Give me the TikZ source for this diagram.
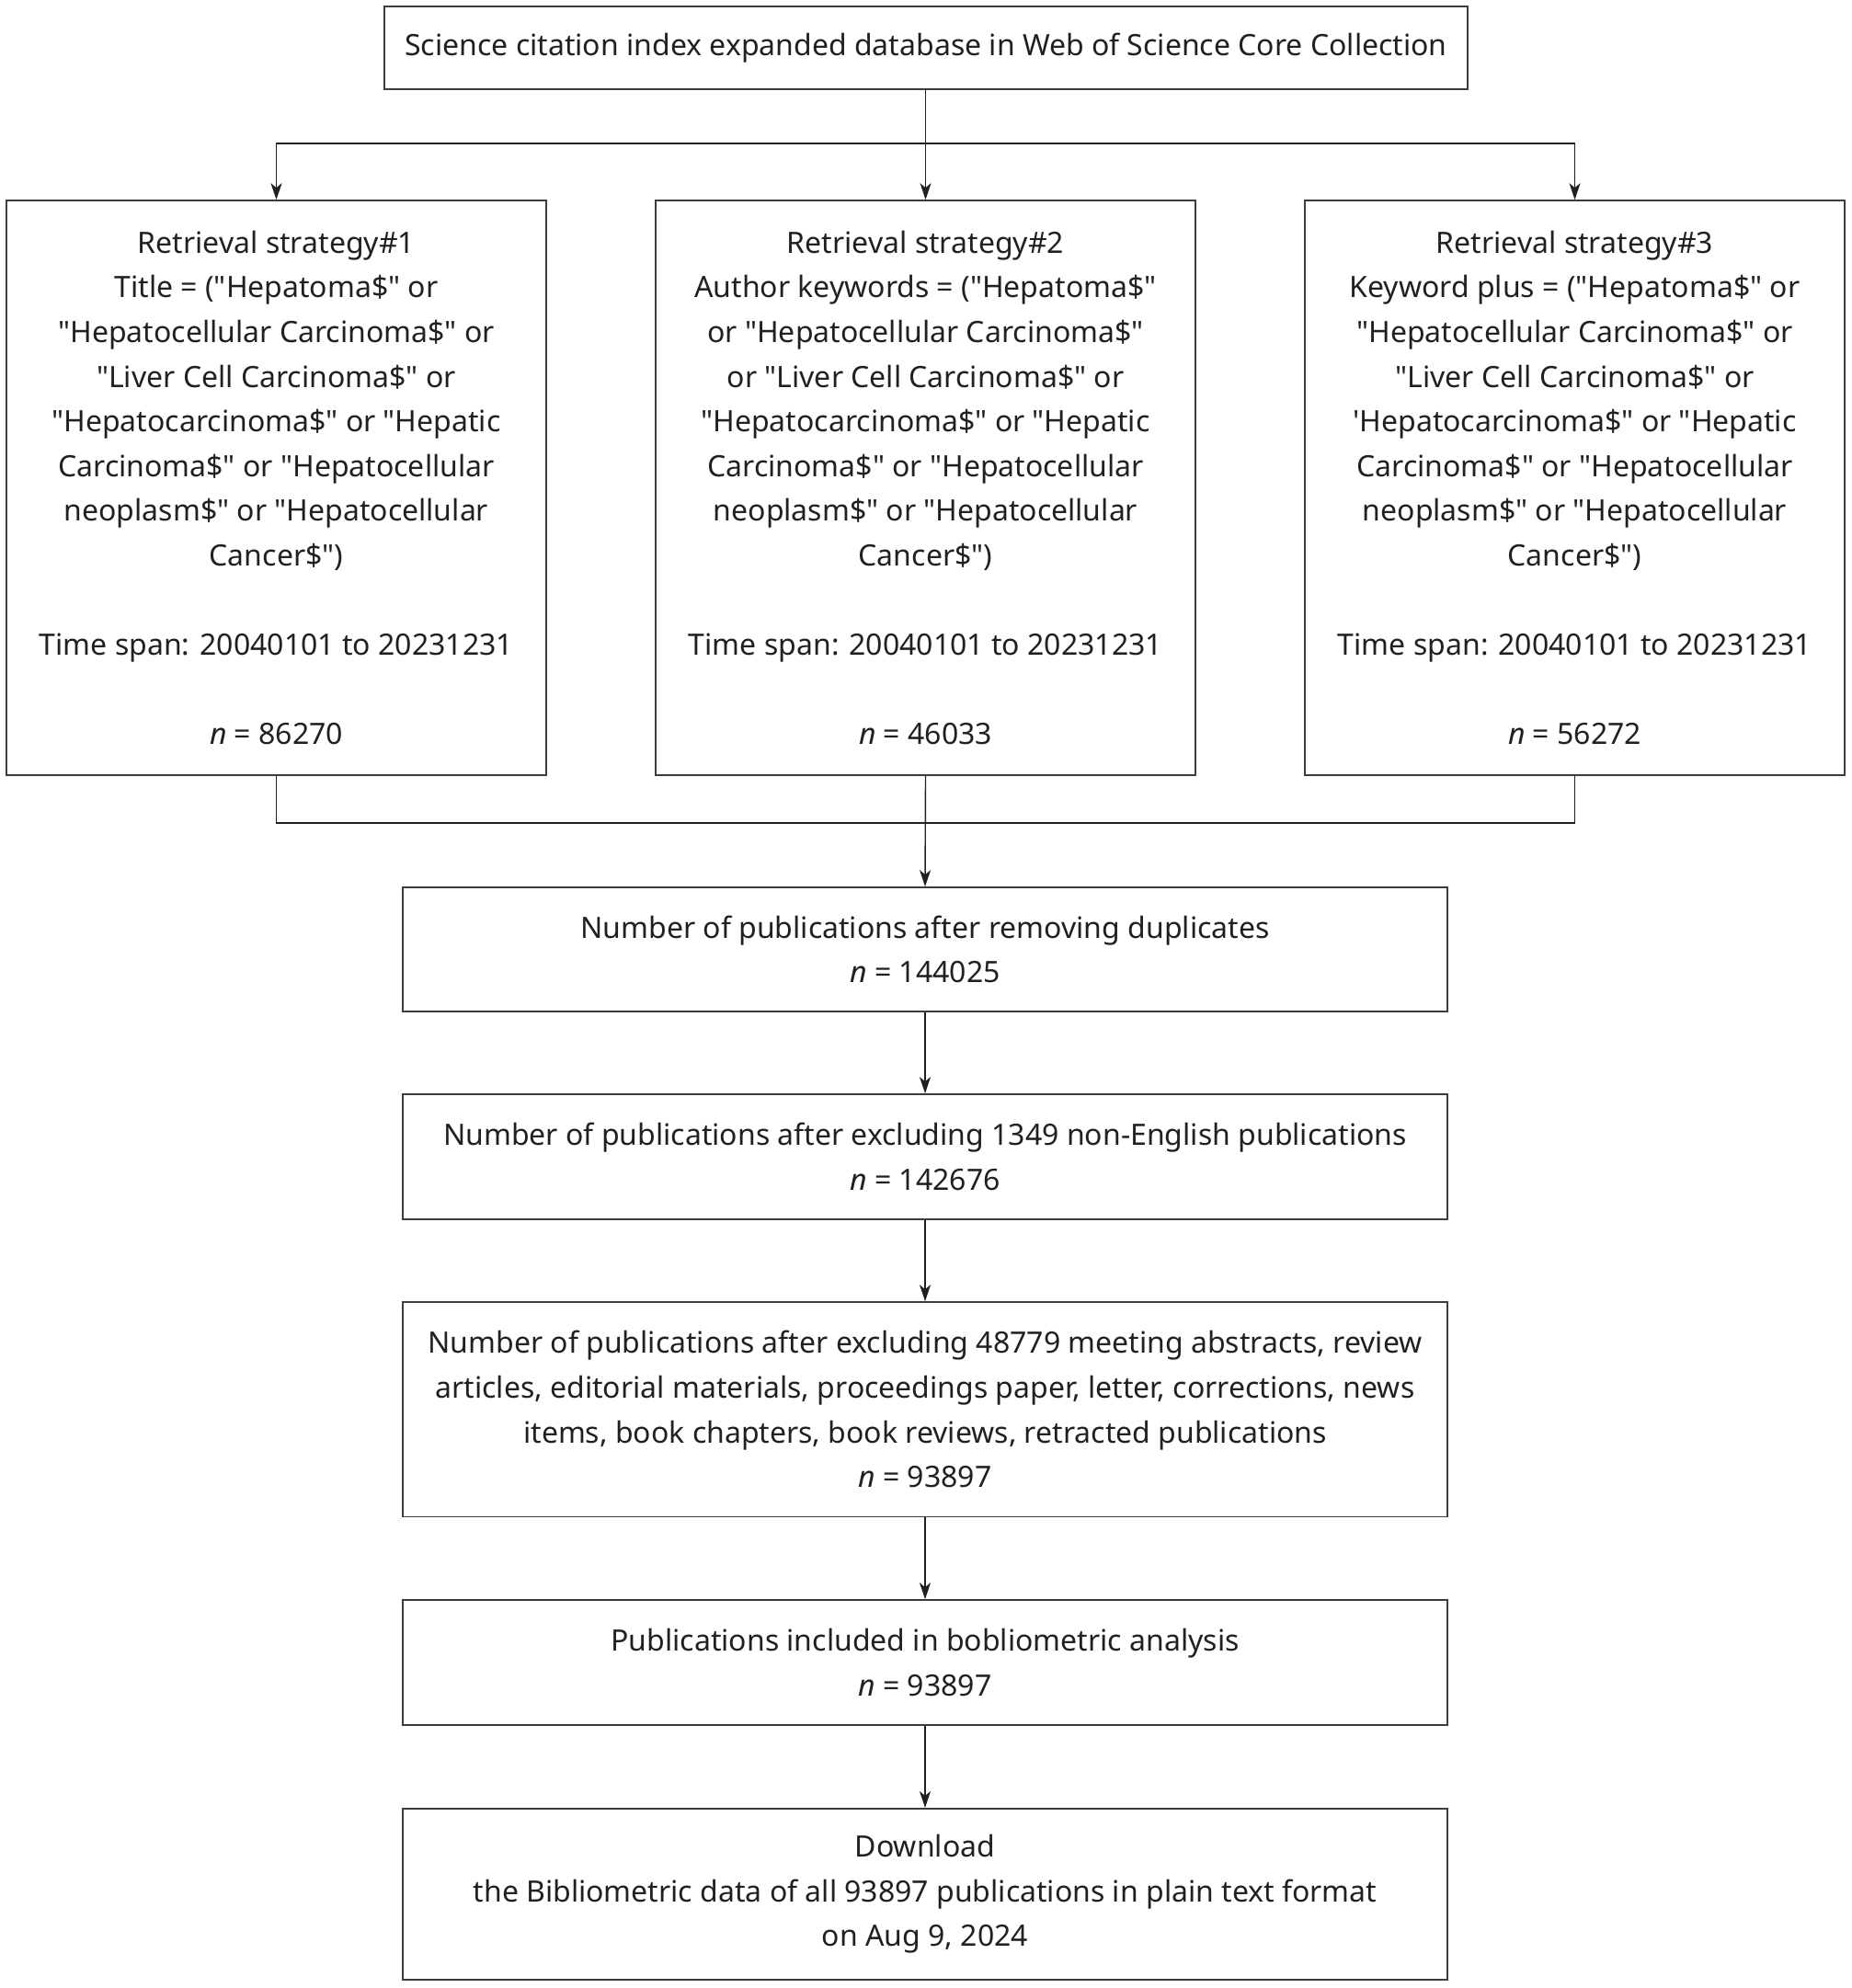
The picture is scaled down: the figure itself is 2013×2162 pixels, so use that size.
\documentclass[tikz,border=0pt]{standalone}
\usepackage{fontspec}
\newfontfamily\nsans{Noto Sans}
\usetikzlibrary{arrows.meta}
\definecolor{ink}{HTML}{231F20}
\definecolor{frame}{HTML}{3C3C3C}
\begin{document}
\begin{tikzpicture}[x=0.5pt,y=-0.5pt,
  box/.style={draw=frame, line width=0.8pt, rectangle, inner sep=0pt, align=center, text=ink,
    font={\nsans\fontsize{16.0}{24.3}\selectfont}},
  sbox/.style={box, minimum width=293.5pt, minimum height=312.5pt},
  wbox/.style={box, minimum width=568pt},
  link/.style={draw=ink, line width=0.7pt},
  arr/.style={link, -{Stealth[length=9pt,width=6pt,inset=2.5pt]}}]
\useasboundingbox (0,0) rectangle (2013,2162);
\node[box, minimum width=589pt, minimum height=45pt] (top) at (1007,52)
  {Science citation index expanded database in Web of Science Core Collection};
\node[sbox] (s1) at (300.5,530.5) {Retrieval strategy\#1\\
Title = ("Hepatoma\$" or\\
"Hepatocellular Carcinoma\$" or\\
"Liver Cell Carcinoma\$" or\\
"Hepatocarcinoma\$" or "Hepatic\\
Carcinoma\$" or "Hepatocellular\\
neoplasm\$" or "Hepatocellular\\
Cancer\$")\\ \mbox{}\\
Time span: 20040101 to 20231231\\ \mbox{}\\
{\itshape n} = 86270};
\node[sbox] (s2) at (1006.5,530.5) {Retrieval strategy\#2\\
Author keywords = ("Hepatoma\$"\\
or "Hepatocellular Carcinoma\$"\\
or "Liver Cell Carcinoma\$" or\\
"Hepatocarcinoma\$" or "Hepatic\\
Carcinoma\$" or "Hepatocellular\\
neoplasm\$" or "Hepatocellular\\
Cancer\$")\\ \mbox{}\\
Time span: 20040101 to 20231231\\ \mbox{}\\
{\itshape n} = 46033};
\node[sbox] (s3) at (1712.5,530.5) {Retrieval strategy\#3\\
Keyword plus = ("Hepatoma\$" or\\
"Hepatocellular Carcinoma\$" or\\
"Liver Cell Carcinoma\$" or\\
'Hepatocarcinoma\$" or "Hepatic\\
Carcinoma\$" or "Hepatocellular\\
neoplasm\$" or "Hepatocellular\\
Cancer\$")\\ \mbox{}\\
Time span: 20040101 to 20231231\\ \mbox{}\\
{\itshape n} = 56272};
\node[wbox, minimum height=67.5pt] (b1) at (1006,1032.5)
  {Number of publications after removing duplicates\\ {\itshape n} = 144025};
\node[wbox, minimum height=68pt] (b2) at (1006,1258)
  {Number of publications after excluding 1349 non-English publications\\ {\itshape n} = 142676};
\node[wbox, minimum height=116.75pt] (b3) at (1006,1532.75)
  {Number of publications after excluding 48779 meeting abstracts, review\\
articles, editorial materials, proceedings paper, letter, corrections, news\\
items, book chapters, book reviews, retracted publications\\
{\itshape n} = 93897};
\node[wbox, minimum height=68pt] (b4) at (1006,1808)
  {Publications included in bobliometric analysis\\ {\itshape n} = 93897};
\node[wbox, minimum height=93.25pt] (b5) at (1006,2060)
  {Download\\
the Bibliometric data of all 93897 publications in plain text format\\
on Aug 9, 2024};
\coordinate (j1) at (1006.5,156);
\coordinate (j2) at (1006.5,895);
\draw[link] (top.south -| j1) -- (j1);
\draw[arr] (j1) -| (s1.north);
\draw[arr] (j1) -| (s3.north);
\draw[arr] (j1) -- (s2.north);
\draw[link] (s1.south) |- (j2);
\draw[link] (s3.south) |- (j2);
\draw[arr] (s2.south) -- (b1.north);
\draw[arr] (b1) -- (b2);
\draw[arr] (b2) -- (b3);
\draw[arr] (b3) -- (b4);
\draw[arr] (b4) -- (b5);
\end{tikzpicture}
\end{document}
